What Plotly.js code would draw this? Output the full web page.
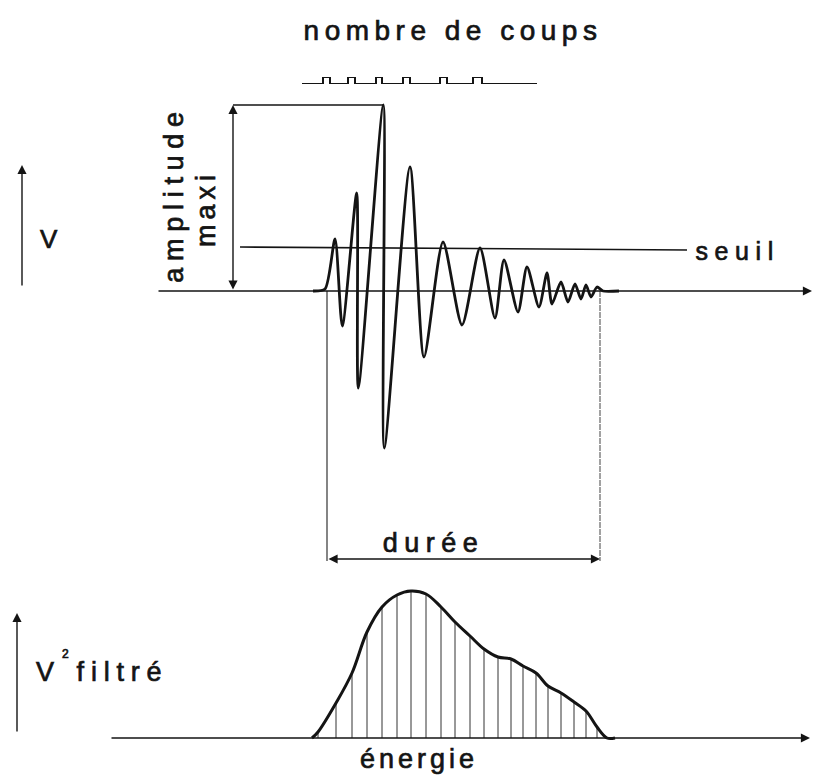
<!DOCTYPE html>
<html>
<head>
<meta charset="utf-8">
<script src="https://cdn.plot.ly/plotly-3.0.1.min.js"></script>
<style>html,body{margin:0;padding:0;background:#fff;}</style>
</head>
<body>
<div id="chart" style="width:815px;height:776px;"></div>
<script>
// ---- Data (t: time, arbitrary units, 0 = onset of the burst) ----
// Burst signal: successive extrema of the oscillation (V, arbitrary units)
const signalT = [-14, -2, 8, 15.3, 29.7, 31.3, 56.3, 57.3, 83, 97, 116, 135, 153, 168, 177, 191, 200, 212, 220, 225, 234, 241, 248, 254, 259, 264, 270, 276, 292];
const signalV = [0, 2, 52, -35, 98, -97, 186, -157, 124, -66, 49, -34, 43, -27, 31, -21, 24, -16, 18, -13, 9, -11, 7, -8, 6, -6, 4, 0, 0];

// Threshold ("seuil") line ends
const seuilT = [-87, 360];
const seuilV = [44, 41];

// Duration of the event: onset and end
const dureeT = [0, 273];

// Counts ("nombre de coups"): one pulse per threshold crossing
const pulseStart = [-4, 21, 49, 76, 113, 146];
const pulseEnd   = [3, 28, 55, 83, 120, 155];
const pulseSpan  = [-25, 210];

// Filtered V^2 envelope (energy), sampled at the hatch lines
const energyT = [-15, -9, 9, 25, 40, 55, 70, 84, 99, 114, 128, 143, 157, 171, 184, 196, 209, 221, 234, 247, 259, 270, 280, 288];
const energyV = [0, 6, 35, 65, 106, 131, 143, 147, 144, 131, 116, 102, 89, 81, 79, 72, 65, 52, 45, 36, 27, 11, 0, 0];

// ---- Build traces ----
const INK = '#141414';
const FONT = 'Liberation Sans, Arial, Helvetica, sans-serif';

// pulse train (step line)
const pX = [pulseSpan[0]], pY = [0];
pulseStart.forEach((s, i) => {
  pX.push(s, s, pulseEnd[i], pulseEnd[i]);
  pY.push(0, 1, 1, 0);
});
pX.push(pulseSpan[1]); pY.push(0);

// hatch lines under the energy curve
const hX = [], hY = [];
energyT.forEach((t, i) => {
  if (energyV[i] > 0) { hX.push(t, t, null); hY.push(0, energyV[i], null); }
});

const iMax = signalV.indexOf(Math.max(...signalV));
const ampMax = signalV[iMax];
const tMax = signalT[iMax];

const traces = [
  { x: signalT, y: signalV, type: 'scatter', mode: 'lines', xaxis: 'x', yaxis: 'y',
    line: { color: INK, width: 2.8, shape: 'spline', smoothing: 0.7 }, hoverinfo: 'skip' },
  { x: seuilT, y: seuilV, type: 'scatter', mode: 'lines', xaxis: 'x', yaxis: 'y',
    line: { color: INK, width: 1.6 }, hoverinfo: 'skip' },
  { x: pX, y: pY, type: 'scatter', mode: 'lines', xaxis: 'x', yaxis: 'y3',
    line: { color: INK, width: 2 }, hoverinfo: 'skip' },
  { x: hX, y: hY, type: 'scatter', mode: 'lines', xaxis: 'x', yaxis: 'y2',
    line: { color: '#333', width: 1 }, connectgaps: false, hoverinfo: 'skip' },
  { x: energyT, y: energyV, type: 'scatter', mode: 'lines', xaxis: 'x', yaxis: 'y2',
    line: { color: INK, width: 3, shape: 'spline', smoothing: 1 }, hoverinfo: 'skip' }
];

function arrow(x, y, ax, ay, yref, both) {
  return { x: x, y: y, ax: ax, ay: ay, xref: 'x', yref: yref, axref: 'x', ayref: yref,
    text: '', showarrow: true, arrowhead: 2, arrowsize: 1.3, arrowwidth: 1.4,
    arrowcolor: INK, arrowside: both ? 'end+start' : 'end', standoff: 0, startstandoff: 0 };
}
function label(text, x, y, yref, size, angle) {
  return { x: x, y: y, xref: 'x', yref: yref, text: text, showarrow: false,
    xanchor: 'center', yanchor: 'middle', textangle: angle || 0,
    font: { family: FONT, size: size, color: INK } };
}

const annotations = [
  arrow(485, 0, -170, 0, 'y', false),            // time axis (top)
  arrow(483, 0, -217, 0, 'y2', false),           // time axis (bottom)
  arrow(-305, 126, -305, 4, 'y', false),         // V arrow
  arrow(-310, 125, -310, 5, 'y2', false),        // V^2 arrow
  arrow(-94, ampMax, -94, 0, 'y', true),         // amplitude maxi
  arrow(dureeT[1], -268, dureeT[0], -268, 'y', true), // durée
  label('V', -278.5, 52, 'y', 26),
  label('amplitude', -153.5, 97, 'y', 27, -90),
  label('maxi', -121.5, 82.5, 'y', 27, -90),
  label('seuil', 410, 40, 'y', 25),
  label('durée', 106, -252, 'y', 27),
  label('V', -282, 66, 'y2', 27),
  label('2', -262, 84, 'y2', 12),
  label('filtré', -205, 66, 'y2', 27),
  label('énergie', 92, -21, 'y2', 27)
];

const shapes = [
  { type: 'line', xref: 'x', yref: 'y', x0: -94, y0: ampMax, x1: tMax, y1: ampMax,
    line: { color: INK, width: 1.7 } },
  { type: 'line', xref: 'x', yref: 'y', x0: dureeT[0], y0: 0, x1: dureeT[0], y1: -270,
    line: { color: '#333', width: 1.2 } },
  { type: 'line', xref: 'x', yref: 'y', x0: dureeT[1], y0: 0, x1: dureeT[1], y1: -270,
    line: { color: '#555', width: 1.1, dash: '6px,1px' } }
];

const layout = {
  width: 815, height: 776,
  margin: { l: 0, r: 0, t: 0, b: 0 },
  paper_bgcolor: '#ffffff', plot_bgcolor: '#ffffff',
  showlegend: false,
  title: { text: 'nombre de coups', x: 453 / 815, xref: 'paper', xanchor: 'center',
    y: 1 - 30 / 776, yref: 'paper', yanchor: 'middle',
    font: { family: FONT, size: 28, color: INK } },
  xaxis: { range: [-327, 488], visible: false, fixedrange: true },
  yaxis: { range: [-485, 291], visible: false, fixedrange: true },
  yaxis2: { range: [-38, 738], overlaying: 'y', visible: false, fixedrange: true },
  yaxis3: { domain: [1 - 84 / 776, 1 - 77 / 776], range: [0, 1], anchor: 'x', visible: false, fixedrange: true },
  annotations: annotations,
  shapes: shapes
};

const spacing = { 'nombre de coups': 5.5, 'amplitude': 6.7, 'maxi': 5, 'seuil': 6.6,
  'durée': 6.5, 'filtré': 6.8, 'énergie': 4 };

Plotly.newPlot('chart', traces, layout, { staticPlot: true, displayModeBar: false }).then(() => {
  document.querySelectorAll('text.annotation-text, text.gtitle').forEach(el => {
    const s = spacing[el.textContent];
    if (s) el.style.letterSpacing = s + 'px';
    el.style.stroke = INK;
    el.style.strokeWidth = '0.7px';
  });
});
</script>
</body>
</html>
